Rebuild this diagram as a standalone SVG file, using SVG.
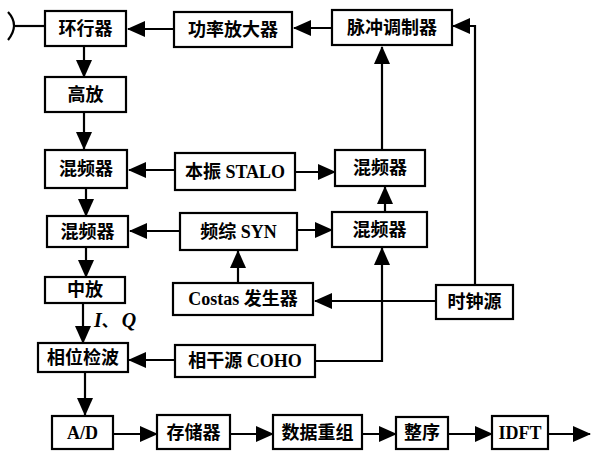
<svg xmlns="http://www.w3.org/2000/svg" width="591" height="451" viewBox="0 0 591 451">
<style>
.b{fill:#fff;stroke:#000;stroke-width:2.2}
.t{font-family:"Liberation Serif","Noto Sans CJK SC",serif;font-weight:bold;font-size:18px;fill:#000;text-anchor:middle;dominant-baseline:central}
.c{fill:none;stroke:#000;stroke-width:2.2}
</style>
<defs>
<marker id="ah" markerUnits="userSpaceOnUse" markerWidth="18" markerHeight="16" viewBox="0 0 18 16" refX="17" refY="8" orient="auto">
<path d="M0,0 L18,8 L0,16 Z" fill="#000"/>
</marker>
</defs>
<rect width="591" height="451" fill="#fff"/>
<g id="connectors">
<path class="c" d="M8,12 Q20,25 8,40"/>
<path class="c" d="M15,26 H45"/>
<path class="c" d="M174,29 H128" marker-end="url(#ah)"/>
<path class="c" d="M332,28 H294" marker-end="url(#ah)"/>
<path class="c" d="M475,285 V26 H453" marker-end="url(#ah)"/>
<path class="c" d="M382,150 V47" marker-end="url(#ah)"/>
<path class="c" d="M84,47 V77" marker-end="url(#ah)"/>
<path class="c" d="M84,112 V149" marker-end="url(#ah)"/>
<path class="c" d="M175,170 H129" marker-end="url(#ah)"/>
<path class="c" d="M296,172 H335" marker-end="url(#ah)"/>
<path class="c" d="M86,188 V216" marker-end="url(#ah)"/>
<path class="c" d="M180,231 H130" marker-end="url(#ah)"/>
<path class="c" d="M298,230 H332" marker-end="url(#ah)"/>
<path class="c" d="M385,212 V187" marker-end="url(#ah)"/>
<path class="c" d="M238,283 V251" marker-end="url(#ah)"/>
<path class="c" d="M436,301 H315" marker-end="url(#ah)"/>
<path class="c" d="M315,361 H382 V248" marker-end="url(#ah)"/>
<path class="c" d="M175,360 H129" marker-end="url(#ah)"/>
<path class="c" d="M86,247 V277" marker-end="url(#ah)"/>
<path class="c" d="M83,303 V343" marker-end="url(#ah)"/>
<path class="c" d="M85,372 V415" marker-end="url(#ah)"/>
<path class="c" d="M114,434 H157" marker-end="url(#ah)"/>
<path class="c" d="M231,434 H273" marker-end="url(#ah)"/>
<path class="c" d="M362,434 H396" marker-end="url(#ah)"/>
<path class="c" d="M449,434 H492" marker-end="url(#ah)"/>
<path class="c" d="M549,434 H590" marker-end="url(#ah)"/>
<text x="94" y="327" style="font-family:'Liberation Serif',serif;font-style:italic;font-weight:bold;font-size:20px">I<tspan font-family="Noto Sans CJK SC" font-style="normal" font-size="16">、</tspan><tspan dx="4">Q</tspan></text>
</g>
<g id="circulator"><rect class="b" x="45" y="11" width="81" height="35"/><text class="t" x="85.5" y="28.5">环行器</text></g>
<g id="power-amp"><rect class="b" x="174" y="12" width="118" height="35"/><text class="t" x="233" y="29.5">功率放大器</text></g>
<g id="pulse-mod"><rect class="b" x="332" y="10" width="120" height="35"/><text class="t" x="392" y="27.5">脉冲调制器</text></g>
<g id="lna"><rect class="b" x="45" y="77" width="81" height="35"/><text class="t" x="85.5" y="94.5">高放</text></g>
<g id="mixer1"><rect class="b" x="45" y="150" width="82" height="38"/><text class="t" x="86" y="169">混频器</text></g>
<g id="stalo"><rect class="b" x="175" y="153" width="120" height="37"/><text class="t" x="235" y="171.5">本振 STALO</text></g>
<g id="mixer-r1"><rect class="b" x="335" y="150" width="90" height="36"/><text class="t" x="380" y="168">混频器</text></g>
<g id="mixer2"><rect class="b" x="47" y="216" width="81" height="31"/><text class="t" x="87.5" y="231.5">混频器</text></g>
<g id="syn"><rect class="b" x="180" y="213" width="117" height="37"/><text class="t" x="238.5" y="231.5">频综 SYN</text></g>
<g id="mixer-r2"><rect class="b" x="332" y="212" width="95" height="35"/><text class="t" x="379.5" y="229.5">混频器</text></g>
<g id="if-amp"><rect class="b" x="45" y="277" width="80" height="26"/><text class="t" x="85" y="290">中放</text></g>
<g id="costas"><rect class="b" x="173" y="283" width="140" height="32"/><text class="t" x="243" y="299">Costas 发生器</text></g>
<g id="clock"><rect class="b" x="436" y="285" width="77" height="34"/><text class="t" x="474.5" y="302">时钟源</text></g>
<g id="phase-det"><rect class="b" x="38" y="343" width="90" height="29"/><text class="t" x="83" y="357.5">相位检波</text></g>
<g id="coho"><rect class="b" x="175" y="345" width="140" height="32"/><text class="t" x="245" y="361">相干源 COHO</text></g>
<g id="ad"><rect class="b" x="52" y="416" width="61" height="33"/><text class="t" x="82.5" y="433">A/D</text></g>
<g id="memory"><rect class="b" x="157" y="415" width="73" height="34"/><text class="t" x="193.5" y="433">存储器</text></g>
<g id="regroup"><rect class="b" x="273" y="415" width="89" height="34"/><text class="t" x="317.5" y="433">数据重组</text></g>
<g id="sort"><rect class="b" x="396" y="417" width="52" height="32"/><text class="t" x="422" y="433">整序</text></g>
<g id="idft"><rect class="b" x="492" y="416" width="56" height="33"/><text class="t" x="520" y="433">IDFT</text></g>
</svg>
